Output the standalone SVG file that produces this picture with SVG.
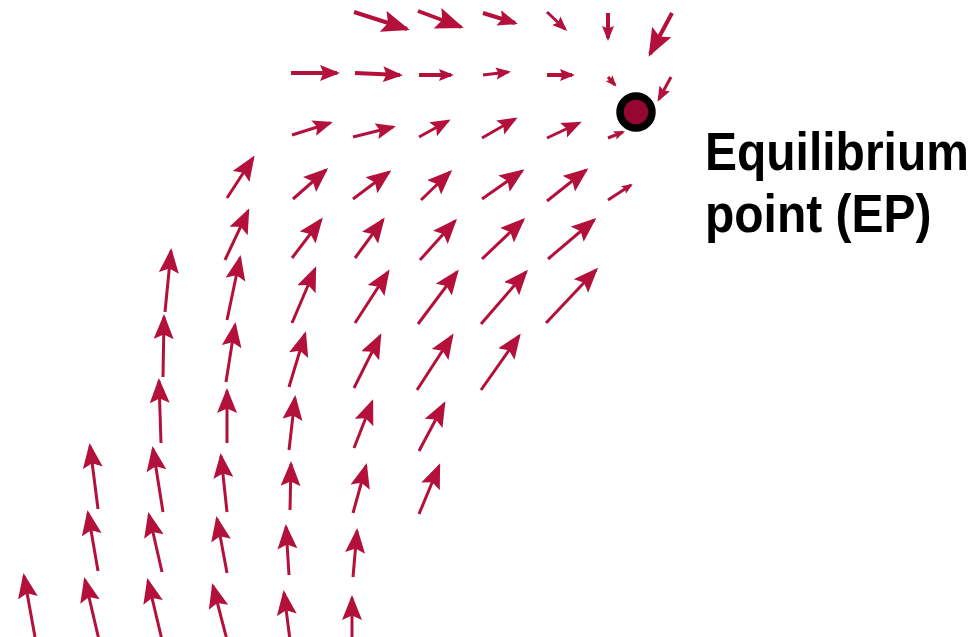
<svg xmlns="http://www.w3.org/2000/svg" width="972" height="637" viewBox="0 0 972 637">
<style>
.a{stroke:#b3113c;stroke-width:3;fill:none;stroke-linecap:butt}
.t{stroke-width:4}
.xl{marker-end:url(#hxl)}
.l{marker-end:url(#hl)}
.ml{marker-end:url(#hml)}
.m{marker-end:url(#hm)}
.s{marker-end:url(#hs)}
.lbl{font-family:"Liberation Sans",Arial,sans-serif;font-weight:bold;font-size:48px;fill:#000}
</style>
<defs>
<marker id="hxl" markerUnits="userSpaceOnUse" markerWidth="30" markerHeight="24" refX="25" refY="11" orient="auto"><path d="M0,0 L28,11 L0,22 L5,11 z" fill="#b3113c"/></marker>
<marker id="hl" markerUnits="userSpaceOnUse" markerWidth="27" markerHeight="22" refX="22" refY="10" orient="auto"><path d="M0,0 L25,10 L0,20 L4.5,10 z" fill="#b3113c"/></marker>
<marker id="hml" markerUnits="userSpaceOnUse" markerWidth="21" markerHeight="17" refX="17" refY="8" orient="auto"><path d="M0,0 L20,8 L0,16 L3.5,8 z" fill="#b3113c"/></marker>
<marker id="hm" markerUnits="userSpaceOnUse" markerWidth="16" markerHeight="13" refX="12" refY="6" orient="auto"><path d="M0,0 L15,6 L0,12 L2.5,6 z" fill="#b3113c"/></marker>
<marker id="hs" markerUnits="userSpaceOnUse" markerWidth="12" markerHeight="10" refX="9" refY="4.5" orient="auto"><path d="M0,0 L11,4.5 L0,9 L2,4.5 z" fill="#b3113c"/></marker>
</defs>
<g id="connectors">
<!-- row 1 -->
<line class="a t xl" x1="354" y1="12" x2="407" y2="29"/>
<line class="a t xl" x1="418" y1="11" x2="461" y2="27"/>
<line class="a t ml" x1="483" y1="13" x2="515" y2="23"/>
<line class="a m" x1="547" y1="12" x2="565" y2="29"/>
<line class="a t m" x1="608" y1="13" x2="608" y2="38"/>
<line class="a t xl" x1="672" y1="13" x2="650" y2="54"/>
<!-- row 2 -->
<line class="a t ml" x1="291" y1="73" x2="337" y2="73"/>
<line class="a t ml" x1="355" y1="73" x2="400" y2="75"/>
<line class="a t m" x1="419" y1="75" x2="451" y2="75"/>
<line class="a m" x1="483" y1="75" x2="508" y2="72"/>
<line class="a t m" x1="547" y1="75" x2="572" y2="75"/>
<line class="a s" x1="608" y1="77" x2="615" y2="85"/>
<line class="a m" x1="671" y1="77" x2="659" y2="99"/>
<!-- row 3 -->
<line class="a ml" x1="292" y1="135" x2="330" y2="123"/>
<line class="a ml" x1="353" y1="137" x2="393" y2="127"/>
<line class="a ml" x1="419" y1="137" x2="448" y2="121"/>
<line class="a ml" x1="482" y1="138" x2="515" y2="119"/>
<line class="a ml" x1="547" y1="138" x2="579" y2="123"/>
<line class="a s" x1="608" y1="138" x2="623" y2="132"/>
<!-- row 4 -->
<line class="a l" x1="227" y1="198" x2="253" y2="158"/>
<line class="a l" x1="293" y1="199" x2="326" y2="170"/>
<line class="a l" x1="353" y1="199" x2="389" y2="172"/>
<line class="a l" x1="421" y1="200" x2="450" y2="172"/>
<line class="a l" x1="482" y1="199" x2="522" y2="171"/>
<line class="a l" x1="547" y1="201" x2="586" y2="170"/>
<line class="a s" x1="608" y1="200" x2="631" y2="185"/>
<!-- row 5 -->
<line class="a l" x1="225" y1="260" x2="248" y2="211"/>
<line class="a l" x1="292" y1="258" x2="321" y2="220"/>
<line class="a l" x1="355" y1="258" x2="383" y2="220"/>
<line class="a l" x1="420" y1="260" x2="455" y2="221"/>
<line class="a l" x1="482" y1="259" x2="523" y2="220"/>
<line class="a l" x1="548" y1="259" x2="594" y2="220"/>
<!-- row 6 -->
<line class="a l" x1="227" y1="320" x2="240" y2="258"/>
<line class="a l" x1="292" y1="323" x2="315" y2="269"/>
<line class="a l" x1="355" y1="323" x2="388" y2="272"/>
<line class="a l" x1="418" y1="324" x2="457" y2="272"/>
<line class="a l" x1="481" y1="324" x2="526" y2="272"/>
<line class="a l" x1="546" y1="323" x2="596" y2="270"/>
<!-- left column x~160 -->
<line class="a l" x1="165" y1="312" x2="171" y2="251"/>
<line class="a l" x1="163" y1="377" x2="164" y2="317"/>
<line class="a l" x1="161" y1="443" x2="159" y2="381"/>
<!-- column x~228 -->
<line class="a l" x1="226" y1="382" x2="235" y2="325"/>
<line class="a l" x1="227" y1="443" x2="227" y2="391"/>
<!-- column x~290 -->
<line class="a l" x1="289" y1="387" x2="305" y2="334"/>
<line class="a l" x1="289" y1="450" x2="295" y2="398"/>
<line class="a l" x1="290" y1="510" x2="291" y2="464"/>
<!-- column x~354 -->
<line class="a l" x1="354" y1="388" x2="380" y2="336"/>
<line class="a l" x1="354" y1="448" x2="372" y2="402"/>
<line class="a l" x1="353" y1="513" x2="366" y2="466"/>
<!-- column x~418 -->
<line class="a l" x1="417" y1="390" x2="452" y2="336"/>
<line class="a l" x1="419" y1="451" x2="444" y2="404"/>
<line class="a l" x1="419" y1="514" x2="439" y2="466"/>
<!-- column x~481 -->
<line class="a l" x1="481" y1="390" x2="519" y2="336"/>
<!-- bottom row a -->
<line class="a l" x1="98" y1="509" x2="90" y2="446"/>
<line class="a l" x1="163" y1="512" x2="153" y2="449"/>
<line class="a l" x1="227" y1="512" x2="221" y2="456"/>
<!-- bottom row b -->
<line class="a l" x1="98" y1="571" x2="88" y2="513"/>
<line class="a l" x1="162" y1="572" x2="149" y2="515"/>
<line class="a l" x1="227" y1="573" x2="217" y2="519"/>
<line class="a l" x1="289" y1="575" x2="286" y2="527"/>
<line class="a l" x1="353" y1="577" x2="357" y2="531"/>
<!-- bottom row c -->
<line class="a l" x1="35" y1="637" x2="24" y2="576"/>
<line class="a l" x1="99" y1="640" x2="85" y2="580"/>
<line class="a l" x1="162" y1="640" x2="148" y2="581"/>
<line class="a l" x1="227" y1="640" x2="213" y2="586"/>
<line class="a l" x1="290" y1="640" x2="284" y2="593"/>
<line class="a l" x1="352" y1="640" x2="352" y2="598"/>
</g>
<g id="ep">
<circle cx="636" cy="112" r="16" fill="#960633" stroke="#000" stroke-width="7.5"/>
</g>
<g id="label">
<text class="lbl" transform="translate(705,170) scale(1,1.1)">Equilibrium</text>
<text class="lbl" transform="translate(705,232) scale(1,1.1)">point (EP)</text>
</g>
</svg>
